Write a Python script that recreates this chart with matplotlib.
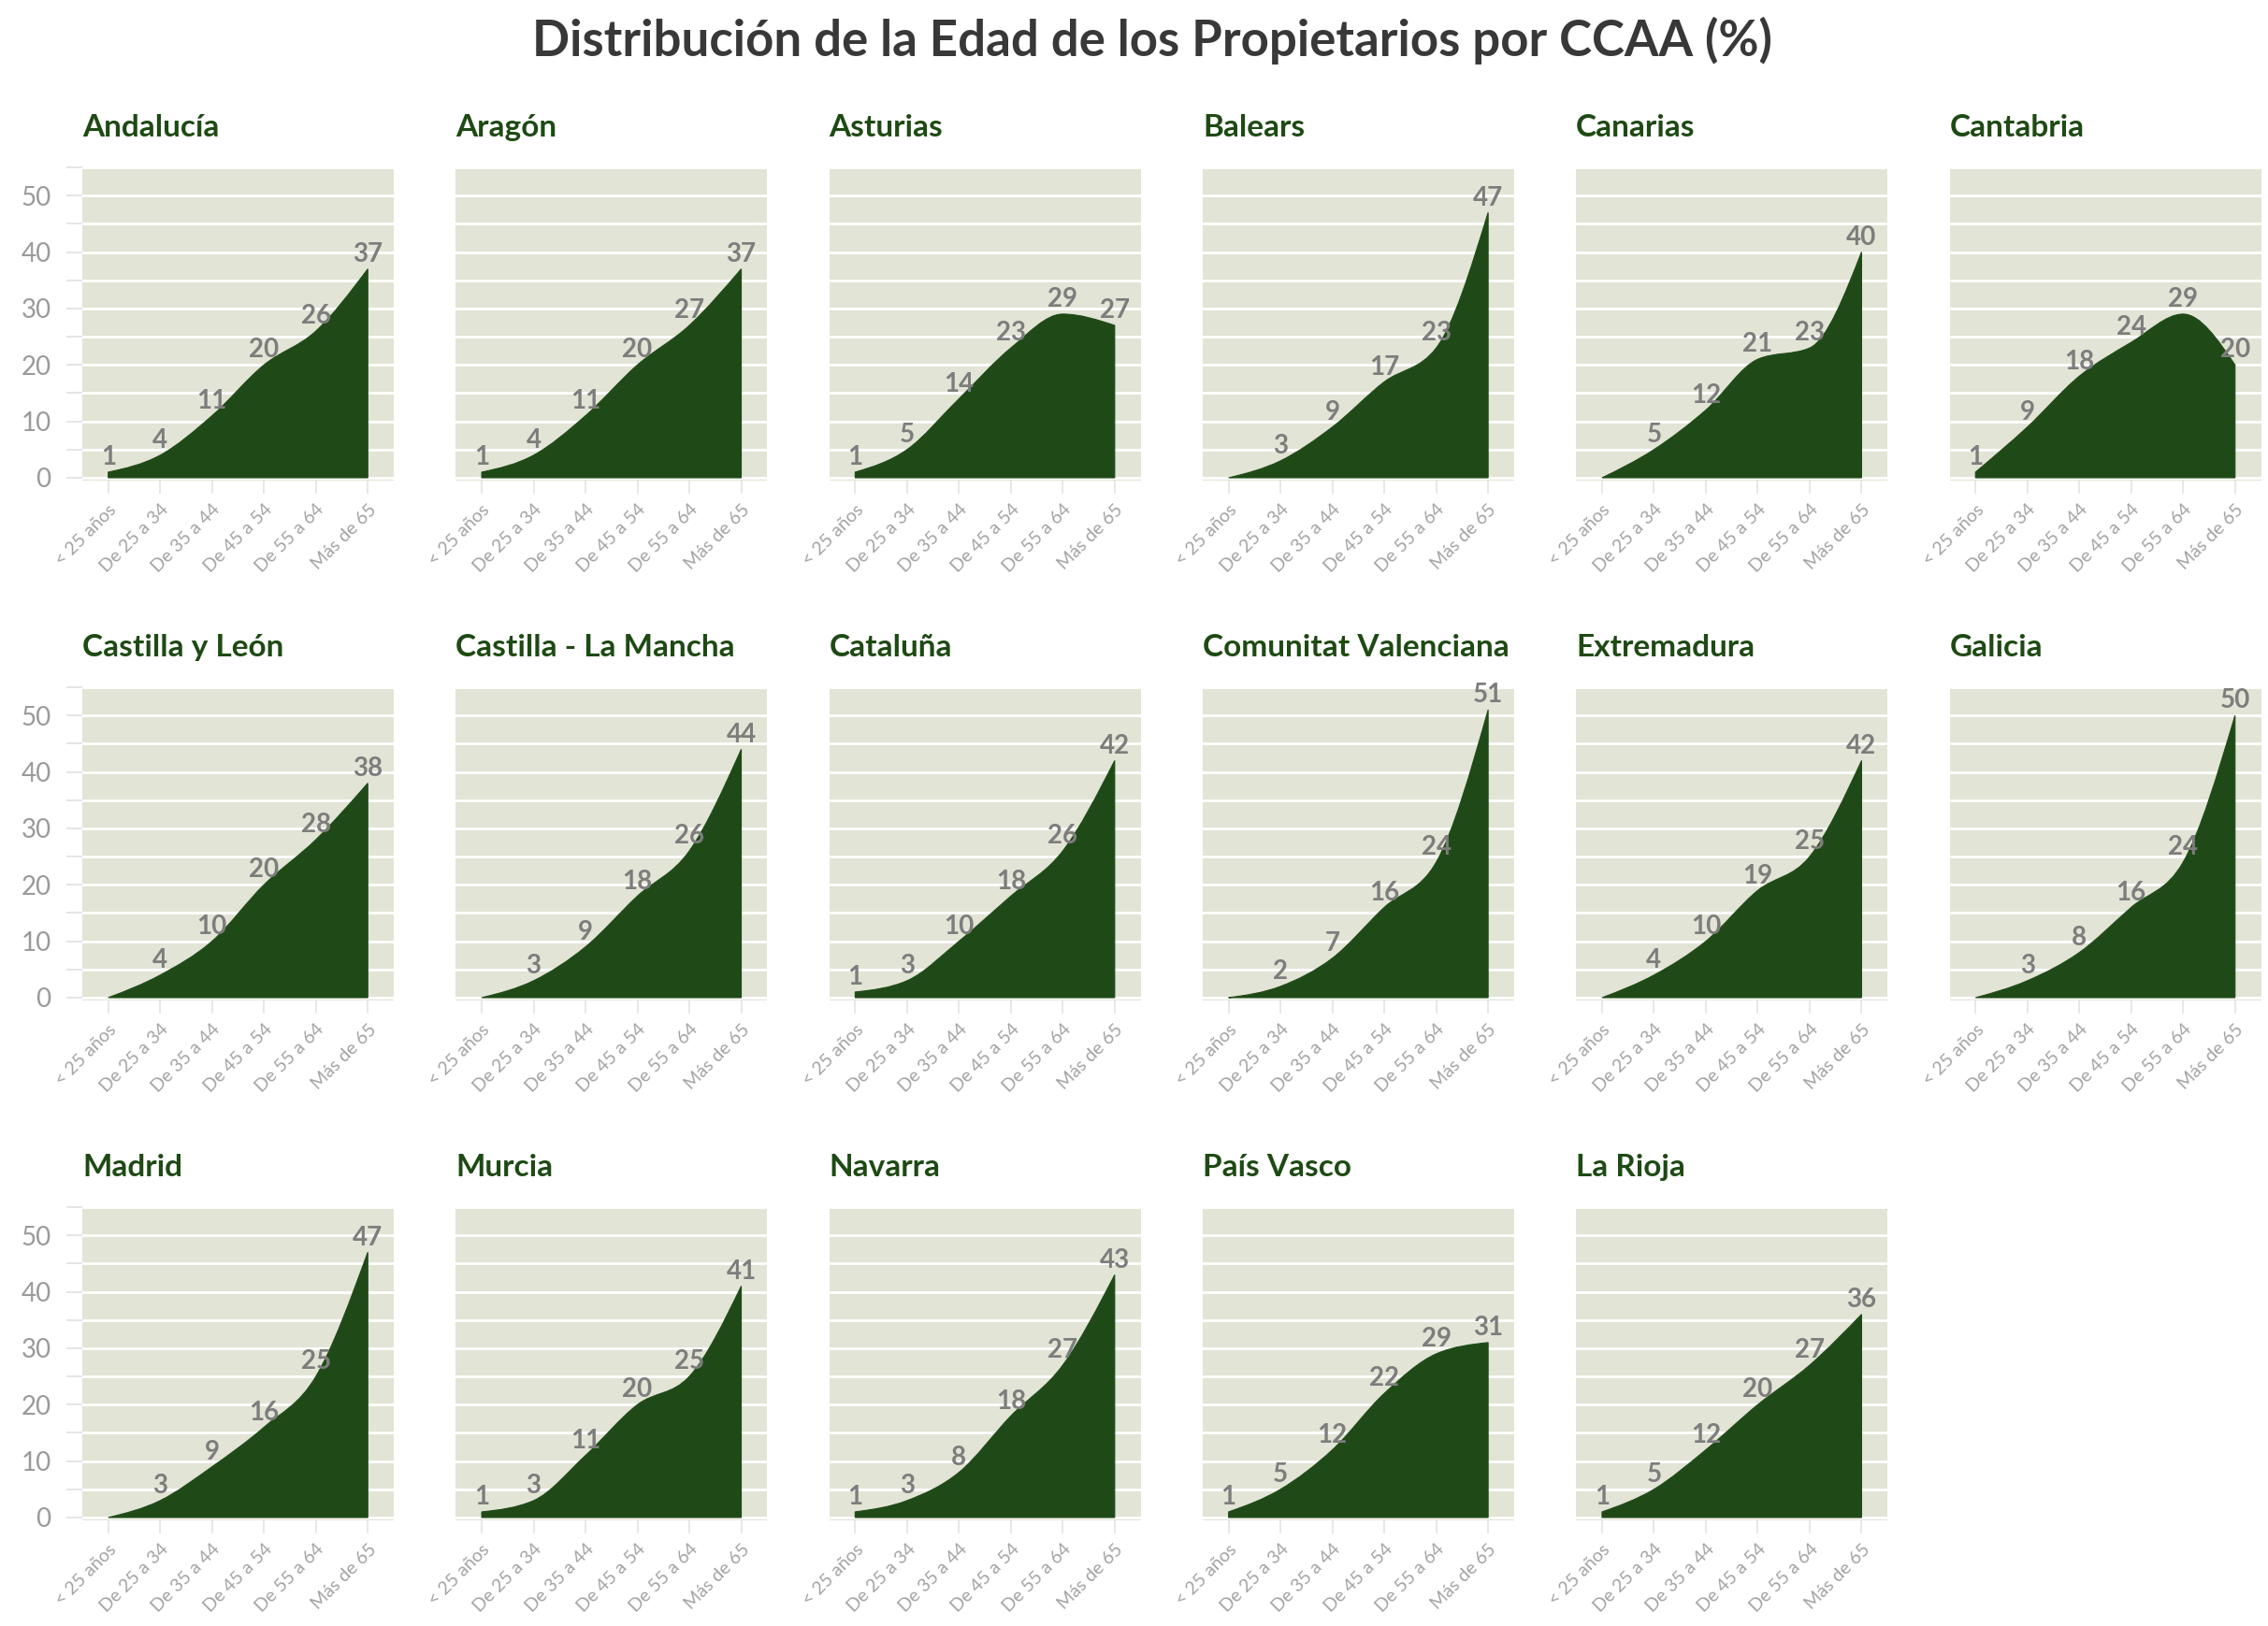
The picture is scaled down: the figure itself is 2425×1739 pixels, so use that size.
import numpy as np
import matplotlib
matplotlib.use("Agg")
import matplotlib.pyplot as plt
from matplotlib.path import Path
from matplotlib.patches import PathPatch
from matplotlib.ticker import MultipleLocator

plt.rcParams['font.family'] = ['Lato', 'DejaVu Sans']

# Data
grupos = ['< 25 años', 'De 25 a 34', 'De 35 a 44', 'De 45 a 54', 'De 55 a 64', 'Más de 65']
regiones = ['Andalucía', 'Aragón', 'Asturias', 'Balears', 'Canarias', 'Cantabria',
            'Castilla y León', 'Castilla - La Mancha', 'Cataluña', 'Comunitat Valenciana',
            'Extremadura', 'Galicia', 'Madrid', 'Murcia', 'Navarra', 'País Vasco', 'La Rioja']
andalucia = [1, 4, 11, 20, 26, 37]
aragon = [1, 4, 11, 20, 27, 37]
asturias = [1, 5, 14, 23, 29, 27]
balears = [0, 3, 9, 17, 23, 47]
canarias = [0, 5, 12, 21, 23, 40]
cantabria = [1, 9, 18, 24, 29, 20]
castilla_leon = [0, 4, 10, 20, 28, 38]
castilla_mancha = [0, 3, 9, 18, 26, 44]
cataluna = [1, 3, 10, 18, 26, 42]
valenciana = [0, 2, 7, 16, 24, 51]
extremadura = [0, 4, 10, 19, 25, 42]
galicia = [0, 3, 8, 16, 24, 50]
madrid = [0, 3, 9, 16, 25, 47]
murcia = [1, 3, 11, 20, 25, 41]
navarra = [1, 3, 8, 18, 27, 43]
pais_vasco = [1, 5, 12, 22, 29, 31]
la_rioja = [1, 5, 12, 20, 27, 36]
valores = [andalucia, aragon, asturias, balears, canarias, cantabria,
           castilla_leon, castilla_mancha, cataluna, valenciana, extremadura, galicia,
           madrid, murcia, navarra, pais_vasco, la_rioja]

VERDE = '#1f4a17'
FONDO = '#e2e4d6'


def monotone_path(x, y):
    # monotone cubic (like d3 curveMonotoneX) as bezier segments, closed to y=0
    x = np.asarray(x, float)
    y = np.asarray(y, float)
    h = np.diff(x)
    s = np.diff(y) / h
    t = np.zeros(len(x))
    for i in range(1, len(x) - 1):
        p = (s[i - 1] * h[i] + s[i] * h[i - 1]) / (h[i - 1] + h[i])
        t[i] = (np.sign(s[i - 1]) + np.sign(s[i])) * min(abs(s[i - 1]), abs(s[i]), 0.5 * abs(p))
    t[0] = (3 * s[0] - t[1]) / 2
    t[-1] = (3 * s[-1] - t[-2]) / 2
    verts = [(x[0], 0), (x[0], y[0])]
    codes = [Path.MOVETO, Path.LINETO]
    for i in range(len(x) - 1):
        d = h[i] / 3
        verts += [(x[i] + d, y[i] + d * t[i]), (x[i + 1] - d, y[i + 1] - d * t[i + 1]), (x[i + 1], y[i + 1])]
        codes += [Path.CURVE4] * 3
    verts += [(x[-1], 0), (x[0], 0)]
    codes += [Path.LINETO, Path.CLOSEPOLY]
    return Path(verts, codes)


W, H = 2425, 1739
fig = plt.figure(figsize=(W / 100, H / 100), dpi=100)
fig.text(0.508, 0.975, 'Distribución de la Edad de los Propietarios por CCAA (%)',
         ha='center', va='center', fontsize=38, fontweight='bold', color='#383838')

xs = np.arange(len(grupos))
for k, (nombre, vals) in enumerate(zip(regiones, valores)):
    fila, col = divmod(k, 6)
    left = 88 + col * 399.3
    top = 179 + fila * 556
    ax = fig.add_axes([left / W, 1 - (top + 335) / H, 333 / W, 335 / H])
    ax.set_facecolor(FONDO)
    ax.add_patch(PathPatch(monotone_path(xs, vals), facecolor=VERDE, edgecolor=VERDE, lw=0.8, zorder=3))
    for xi, v in zip(xs, vals):
        if v > 0:
            ax.annotate(str(v), (xi, v), xytext=(0, 2), textcoords='offset points',
                        ha='center', va='bottom', fontsize=20, fontweight='bold',
                        color='#7d7d7d', zorder=4)
    ax.set_xlim(-0.5, 5.5)
    ax.set_ylim(-0.5, 55)
    ax.yaxis.set_major_locator(MultipleLocator(10))
    ax.yaxis.set_minor_locator(MultipleLocator(5))
    ax.grid(axis='y', which='both', color='white', lw=2)
    ax.set_axisbelow(True)
    for sp in ax.spines.values():
        sp.set_visible(False)
    ax.set_xticks(xs)
    ax.set_xticklabels(grupos, rotation=45, ha='right', rotation_mode='anchor',
                       fontsize=14, color='#a3a3a3')
    ax.tick_params(axis='x', length=10, color='#e4e4e4', width=1.2, pad=6)
    if col == 0:
        ax.tick_params(axis='y', which='both', length=12, color='#e0e0e0', width=1.2,
                       labelsize=20, labelcolor='#9a9a9a', pad=12)
    else:
        ax.tick_params(axis='y', which='both', length=0, labelleft=False)
    ax.set_title(nombre, loc='left', fontsize=24, fontweight='bold', color='#1e4a14', pad=24)

fig.savefig('out.png', dpi=100, facecolor='white')
